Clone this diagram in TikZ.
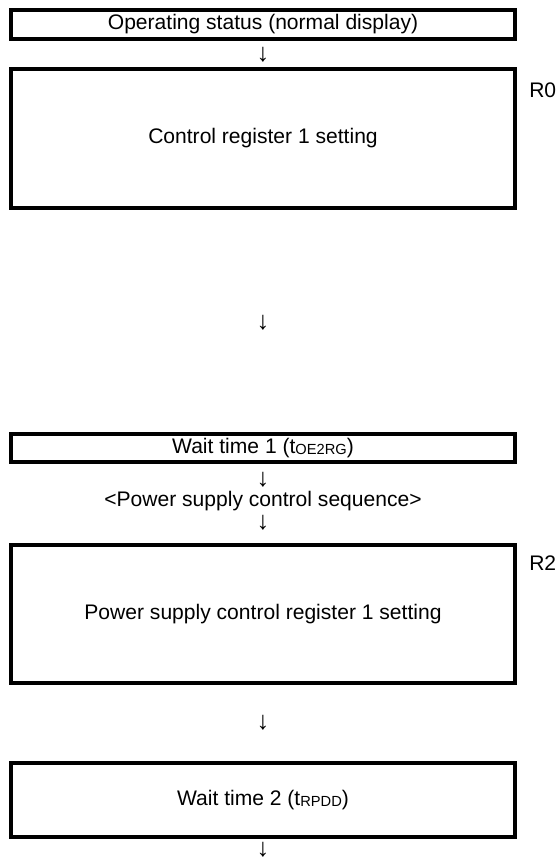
\documentclass[tikz,border=0pt]{standalone}
\usepackage{fontspec}
\setmainfont{Liberation Sans}

\newcommand{\mainsz}{\fontsize{15.8}{18}\selectfont}
\newcommand{\arrsz}{\fontsize{19}{22}\selectfont}
\newcommand{\tsub}[1]{\raisebox{-0.5pt}{\fontsize{11}{12}\selectfont #1}}

\begin{document}
\begin{tikzpicture}[
    x=0.75pt, y=-0.75pt,
    stepbox/.style={draw, line width=3pt, minimum width=378pt,
        inner sep=0pt, font=\mainsz},
    txt/.style={font=\mainsz, inner sep=0pt},
    arr/.style={font=\arrsz, inner sep=0pt},
]
\useasboundingbox (0,0) rectangle (557,861);

% Normal display state
\node[stepbox, minimum height=21.75pt] (opstat) at (263,24.5)
    {Operating status (normal display)};
\node[arr] (arrA) at (263,55) {↓};

% Register R0
\node[stepbox, minimum height=104.25pt] (ctrlreg) at (263,138.5)
    {Control register 1 setting};
\node[txt, anchor=west] (regA) at (529,90) {R0};

\node[arr] (arrB) at (263,323) {↓};

% First wait
\node[stepbox, minimum height=21pt] (waitA) at (263,448)
    {Wait time 1 (t\tsub{OE2RG})};
\node[arr] (arrC) at (263,480) {↓};
\node[txt] (pwrseq) at (263,501) {<Power supply control sequence>};
\node[arr] (arrD) at (263,523) {↓};

% Power supply register
\node[stepbox, minimum height=103.5pt] (pwrreg) at (263,614)
    {Power supply control register 1 setting};
\node[txt, anchor=west] (regB) at (529,563) {R2};

\node[arr] (arrE) at (263,723) {↓};

% Second wait
\node[stepbox, minimum height=55.5pt] (waitB) at (263,800)
    {Wait time 2 (t\tsub{RPDD})};
\node[arr] (arrF) at (263,850) {↓};

\end{tikzpicture}
\end{document}
